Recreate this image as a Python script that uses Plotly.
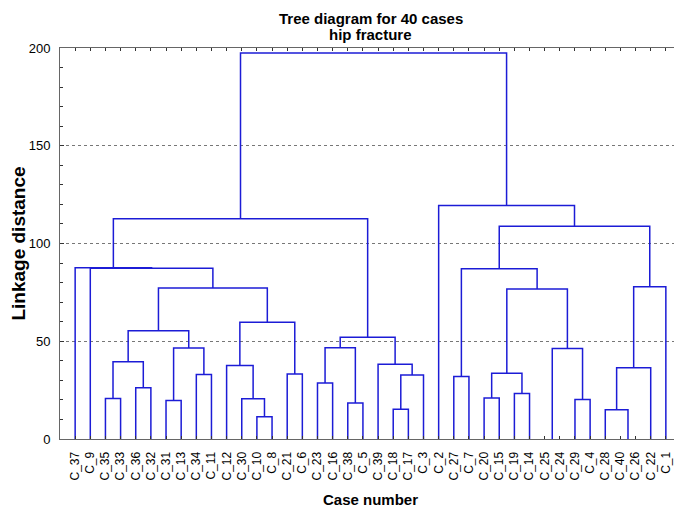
import plotly.graph_objects as go

# Leaf order along the horizontal axis
leaf_order = ["C_37", "C_9", "C_35", "C_33", "C_36", "C_32", "C_31", "C_13", "C_34", "C_11",
              "C_12", "C_30", "C_10", "C_8", "C_21", "C_6", "C_23", "C_16", "C_38", "C_5",
              "C_39", "C_18", "C_17", "C_3", "C_2", "C_27", "C_7", "C_20", "C_15", "C_19",
              "C_14", "C_25", "C_24", "C_29", "C_4", "C_28", "C_40", "C_26", "C_22", "C_1"]

# Merge steps: new cluster name, left member, right member, linkage distance
merge_name = ["a1", "a2", "a3", "a4", "a5", "a6", "a7",
              "b1", "b2", "b3", "b4", "b5",
              "c1", "c2", "c3",
              "d1", "d2", "d3", "e1", "e2", "e3", "f1", "g1",
              "h1", "i1", "i2", "i3", "j1", "j2", "j3", "k1", "k2",
              "l1", "l2", "l3", "l4", "m1", "m2", "root"]
merge_left = ["C_35", "C_36", "a1", "C_31", "C_34", "a4", "a3",
              "C_10", "C_30", "C_12", "C_21", "b3",
              "a7", "C_9", "C_37",
              "C_23", "C_38", "d1", "C_18", "e1", "C_39", "d3", "c3",
              "C_27", "C_20", "C_19", "i1", "C_25", "C_29", "j1", "i3", "h1",
              "C_40", "C_28", "l2", "l3", "k2", "C_2", "g1"]
merge_right = ["C_33", "C_32", "a2", "C_13", "C_11", "a5", "a6",
               "C_8", "b1", "b2", "C_6", "b4",
               "b5", "c1", "c2",
               "C_16", "C_5", "d2", "C_17", "C_3", "e2", "e3", "f1",
               "C_7", "C_15", "C_14", "i2", "C_24", "C_4", "j2", "j3", "k1",
               "C_26", "l1", "C_22", "C_1", "l4", "m1", "m2"]
merge_height = [20.7, 26.2, 39.5, 19.7, 33.0, 46.5, 55.4,
                11.4, 20.6, 37.6, 33.2, 59.7,
                77.3, 87.4, 87.6,
                28.6, 18.4, 46.7, 15.2, 32.7, 38.2, 52.1, 112.6,
                32.0, 21.0, 23.3, 33.6, 0.0, 20.2, 46.3, 76.7, 87.1,
                0.0, 15.0, 36.4, 77.9, 108.8, 119.4, 197.4]

title_lines = ["Tree diagram for 40 cases", "hip fracture"]

# Build the dendrogram path from the merge table
pos = {name: i + 1 for i, name in enumerate(leaf_order)}
hgt = {name: 0.0 for name in leaf_order}
xs, ys = [], []
for name, l, r, h in zip(merge_name, merge_left, merge_right, merge_height):
    xl, xr = pos[l], pos[r]
    if h > 0:  # zero-distance joins coincide with the baseline
        xs += [xl, xl, xr, xr, None]
        ys += [hgt[l], h, h, hgt[r], None]
    pos[name] = (xl + xr) / 2
    hgt[name] = h

FONT = "Liberation Sans, Arial, sans-serif"
W, H = 674, 500          # page body margin of 8px fills the rest of the window
M_L, M_R, M_T, M_B = 52, 1, 40, 69
PLOT_H = H - M_T - M_B

fig = go.Figure()
fig.add_trace(go.Scatter(x=xs, y=ys, mode="lines",
                         line=dict(color="#1c1cd6", width=1.5),
                         hoverinfo="skip", showlegend=False))

fig.update_layout(
    width=W, height=H,
    margin=dict(l=M_L, r=M_R, t=M_T, b=M_B, autoexpand=False),
    paper_bgcolor="white", plot_bgcolor="white",
    font=dict(family=FONT, color="black"),
)

for txt, ypx in zip(title_lines, [10, 26]):
    fig.add_annotation(text="<b>" + txt + "</b>", xref="paper", yref="paper",
                       x=0.5, y=1 + (M_T - ypx) / PLOT_H,
                       xanchor="center", yanchor="middle", showarrow=False,
                       font=dict(size=15, family=FONT, color="black"))

fig.update_xaxes(
    range=[0, 41], tickmode="array",
    tickvals=list(range(1, len(leaf_order) + 1)), ticktext=leaf_order,
    tickangle=-90, ticks="inside", ticklen=3, tickcolor="#333",
    mirror="ticks", showline=True, linecolor="#666", linewidth=1,
    showgrid=False, zeroline=False, automargin=False,
    ticklabelstandoff=7,
    tickfont=dict(size=12, family=FONT, color="black"),
    title=dict(text="<b>Case number</b>", standoff=16,
               font=dict(size=15, family=FONT, color="black")),
)

fig.update_yaxes(
    range=[0, 200], dtick=50, tick0=0,
    ticks="inside", ticklen=4, tickcolor="#333",
    minor=dict(dtick=10, ticks="inside", ticklen=3, tickcolor="#333", showgrid=False),
    mirror="ticks", showline=True, linecolor="#666", linewidth=1,
    showgrid=True, gridcolor="#777", griddash="dot", gridwidth=1,
    zeroline=False, automargin=False,
    ticklabelstandoff=6,
    tickfont=dict(size=13, family=FONT, color="black"),
    title=dict(text="<b>Linkage distance</b>", standoff=5,
               font=dict(size=19, family=FONT, color="black")),
)

fig.write_html("out.html")
